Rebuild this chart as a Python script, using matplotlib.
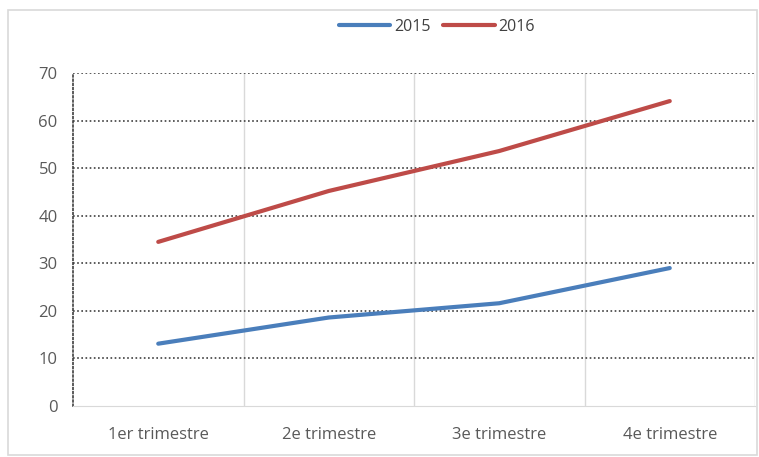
import matplotlib.pyplot as plt
from matplotlib.patches import Rectangle

categories = ['1er trimestre', '2e trimestre', '3e trimestre', '4e trimestre']
values_2015 = [13.1, 18.6, 21.6, 29.0]
values_2016 = [34.5, 45.2, 53.6, 64.1]

plt.rcParams['font.family'] = ['Open Sans', 'DejaVu Sans']

fig = plt.figure(figsize=(7.59, 4.57), dpi=100)
ax = fig.add_axes([73 / 759, 1 - 406 / 457, 682 / 759, 333 / 457])

# outer chart frame
fig.patches.append(Rectangle((8 / 759, 2 / 457), 749 / 759, 445 / 457,
                             transform=fig.transFigure, fill=False,
                             edgecolor='#d9d9d9', linewidth=1.2))

x = range(len(categories))
ax.plot(x, values_2015, color='#4a7ebb', linewidth=3, label='2015', solid_capstyle='round')
ax.plot(x, values_2016, color='#be4b48', linewidth=3, label='2016', solid_capstyle='round')

ax.set_xlim(-0.5, 3.5)
ax.set_ylim(0, 70)
ax.set_yticks(range(0, 71, 10))
ax.set_xticks(list(x))
ax.set_xticklabels(categories)

# vertical category gridlines
for b in [0.5, 1.5, 2.5, 3.5]:
    ax.axvline(b, color='#d9d9d9', linewidth=1, zorder=0)
# dotted horizontal gridlines
for v in range(10, 71, 10):
    ax.axhline(v, color='#404040', linewidth=1.2, linestyle=(0, (1, 1.5)), zorder=0)

for s in ['top', 'right']:
    ax.spines[s].set_visible(False)
ax.spines['bottom'].set_color('#d9d9d9')
ax.spines['left'].set_color('#404040')
ax.spines['left'].set_linestyle((0, (1, 1.5)))
ax.spines['left'].set_linewidth(1.2)

ax.tick_params(axis='both', length=0, labelsize=12, colors='#595959')
ax.tick_params(axis='y', pad=11)
ax.tick_params(axis='x', pad=15)

fig.legend(loc='center', bbox_to_anchor=(437 / 759, 1 - 27 / 457), ncol=2, frameon=False,
           fontsize=11.5, handlelength=3.2, handletextpad=0.25, columnspacing=0.8,
           labelcolor='#404040')

plt.savefig('out.png', dpi=100)
